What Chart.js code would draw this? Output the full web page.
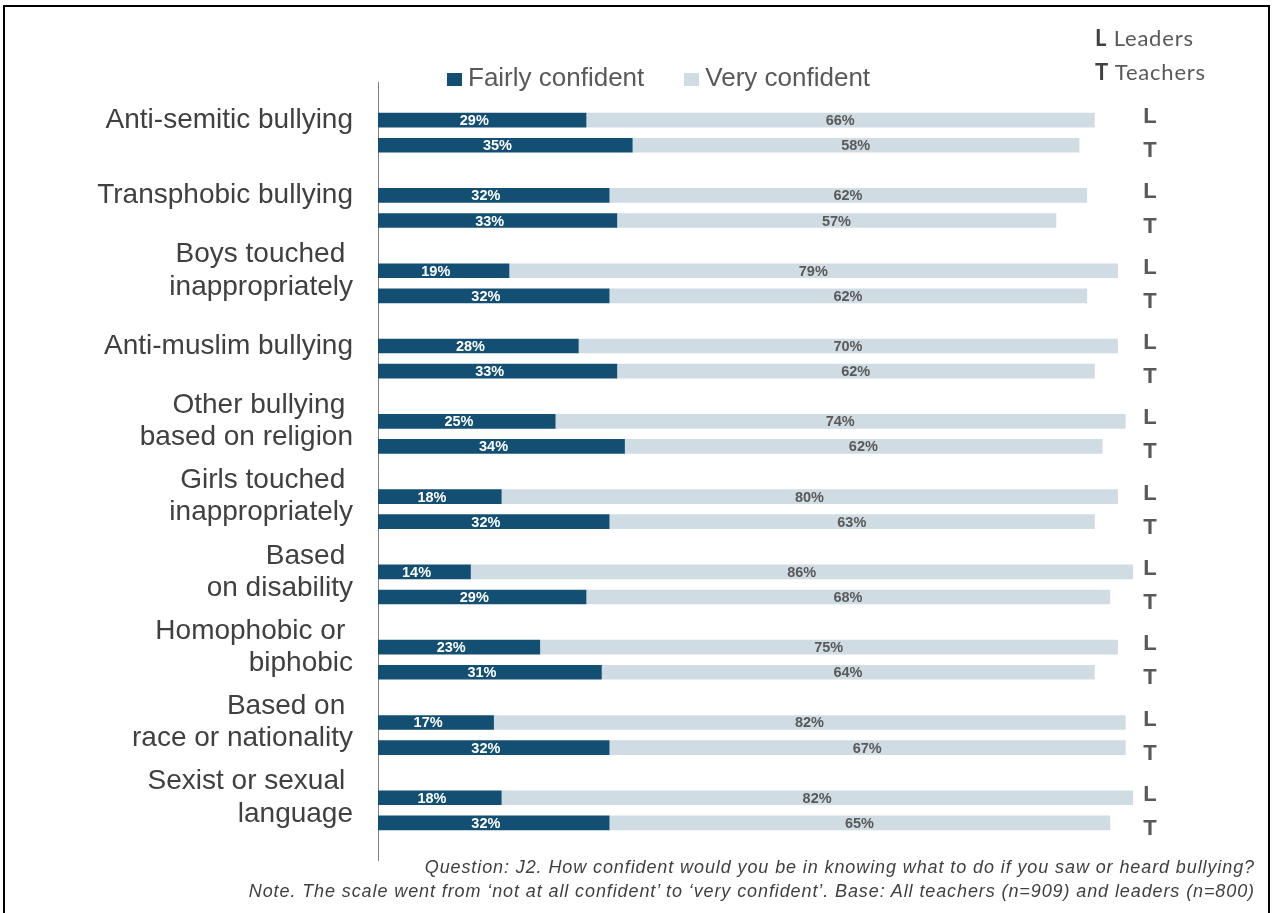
<!DOCTYPE html>
<html lang="en">
<head>
  <meta charset="UTF-8" />
  <title>Confidence in responding to bullying</title>
  <script src="https://cdn.jsdelivr.net/npm/chart.js"></script>
  <style>
    body {
      margin: 0;
      background: #fff;
      font-family: 'Liberation Sans', Arial, sans-serif;
      overflow: hidden;
    }
    .frame {
      position: absolute;
      left: 3px;
      top: 5px;
      width: 1263px;
      height: 940px;
      border: 2px solid #000;
      pointer-events: none;
    }
    #chart { position: absolute; left: 0; top: 0; }
    .legend {
      position: absolute;
      left: 447px;
      top: 62px;
      font-size: 26px;
      line-height: 30px;
      color: #595959;
      white-space: nowrap;
    }
    .legend .item { margin-right: 40px; }
    .legend i {
      display: inline-block;
      width: 15px;
      height: 13px;
      margin-right: 6px;
      vertical-align: baseline;
    }
    .key {
      position: absolute;
      left: 1095px;
      top: 21px;
      font-family: Lato, 'Open Sans', sans-serif;
      font-size: 22px;
      line-height: 34px;
      letter-spacing: 0.8px;
      color: #595959;
    }
    .key b { color: #404040; }
    .note {
      position: absolute;
      right: 17px;
      top: 855px;
      font-style: italic;
      font-size: 18px;
      line-height: 24px;
      letter-spacing: 0.9px;
      color: #404040;
      text-align: right;
      white-space: nowrap;
    }
  </style>
</head>
<body>
  <canvas id="chart" width="1272" height="913"></canvas>
  <div class="legend" id="legend"></div>
  <div class="key">
    <div><b>L</b> Leaders</div>
    <div><b>T</b> Teachers</div>
  </div>
  <div class="note">
    Question: J2. How confident would you be in knowing what to do if you saw or heard bullying?<br />
    Note. The scale went from ‘not at all confident’ to ‘very confident’. Base: All teachers (n=909) and leaders (n=800)
  </div>
  <div class="frame"></div>

  <script>
    // categories, two lines where the label wraps
    const categories = [
      ['Anti-semitic bullying'],
      ['Transphobic bullying'],
      ['Boys touched ', 'inappropriately'],
      ['Anti-muslim bullying'],
      ['Other bullying ', 'based on religion'],
      ['Girls touched ', 'inappropriately'],
      ['Based ', 'on disability'],
      ['Homophobic or ', 'biphobic'],
      ['Based on ', 'race or nationality'],
      ['Sexist or sexual ', 'language']
    ];
    const seriesNames = ['Fairly confident', 'Very confident'];
    const seriesColors = ['#124F73', '#D0DCE4'];
    const valueColors = ['#FFFFFF', '#595959'];

    // leaders (L) and teachers (T), percentages
    const leadersFairly  = [29, 32, 19, 28, 25, 18, 14, 23, 17, 18];
    const leadersVery    = [66, 62, 79, 70, 74, 80, 86, 75, 82, 82];
    const teachersFairly = [35, 33, 32, 33, 34, 32, 29, 31, 32, 32];
    const teachersVery   = [58, 57, 62, 62, 62, 63, 68, 64, 67, 65];

    // rows: blank, then L / T / blank for every category
    const rowLabels = [''];
    const rowGroup = [null];
    const fairly = [null];
    const very = [null];
    categories.forEach((cat, i) => {
      rowLabels.push(cat, '', '');
      rowGroup.push('L', 'T', null);
      fairly.push(leadersFairly[i], teachersFairly[i], null);
      very.push(leadersVery[i], teachersVery[i], null);
    });

    const valueLabels = {
      id: 'valueLabels',
      afterDatasetsDraw(chart) {
        const ctx = chart.ctx;
        ctx.save();
        ctx.font = 'bold 14.5px "Liberation Sans", Arial, sans-serif';
        ctx.textAlign = 'center';
        ctx.textBaseline = 'middle';
        chart.data.datasets.forEach((ds, di) => {
          chart.getDatasetMeta(di).data.forEach((bar, i) => {
            const v = ds.data[i];
            if (v == null) return;
            const p = bar.getProps(['x', 'y', 'base'], true);
            ctx.fillStyle = valueColors[di];
            ctx.fillText(v + '%', (p.x + p.base) / 2, p.y + 1);
          });
        });
        ctx.restore();
      }
    };

    // L / T markers to the right of each bar
    const groupMarks = {
      id: 'groupMarks',
      afterDraw(chart) {
        const { ctx, chartArea, scales } = chart;
        ctx.save();
        ctx.font = 'bold 22px "Liberation Sans", Arial, sans-serif';
        ctx.fillStyle = '#595959';
        ctx.textAlign = 'center';
        ctx.textBaseline = 'middle';
        rowGroup.forEach((g, i) => {
          if (!g) return;
          const y = scales.y.getPixelForValue(i) + (g === 'L' ? -3 : 6);
          ctx.fillText(g, chartArea.right + 17, y);
        });
        ctx.restore();
      }
    };

    const chart = new Chart(document.getElementById('chart'), {
      type: 'bar',
      data: {
        labels: rowLabels,
        datasets: [
          { label: seriesNames[0], data: fairly, backgroundColor: seriesColors[0] },
          { label: seriesNames[1], data: very, backgroundColor: seriesColors[1] }
        ]
      },
      options: {
        indexAxis: 'y',
        responsive: false,
        animation: false,
        datasets: {
          bar: { barThickness: 14, borderWidth: 0 }
        },
        layout: { padding: { top: 82.5, bottom: 52.5, left: 0, right: 139 } },
        scales: {
          x: {
            stacked: true,
            display: false,
            min: 2,
            max: 100
          },
          y: {
            stacked: true,
            grid: { display: false, drawTicks: false },
            border: { display: true, color: '#7F7F7F', width: 1 },
            ticks: {
              autoSkip: false,
              padding: 25,
              color: '#404040',
              font: { family: '"Liberation Sans", Arial, sans-serif', size: 28, lineHeight: 1.15 }
            },
            afterFit(scale) { scale.width = 378; }
          }
        },
        plugins: {
          legend: { display: false },
          tooltip: { enabled: false }
        }
      },
      plugins: [valueLabels, groupMarks]
    });

    // legend built from the datasets
    const legendEl = document.getElementById('legend');
    chart.data.datasets.forEach(ds => {
      const item = document.createElement('span');
      item.className = 'item';
      const box = document.createElement('i');
      box.style.background = ds.backgroundColor;
      item.appendChild(box);
      item.appendChild(document.createTextNode(ds.label));
      legendEl.appendChild(item);
    });
  </script>
</body>
</html>
